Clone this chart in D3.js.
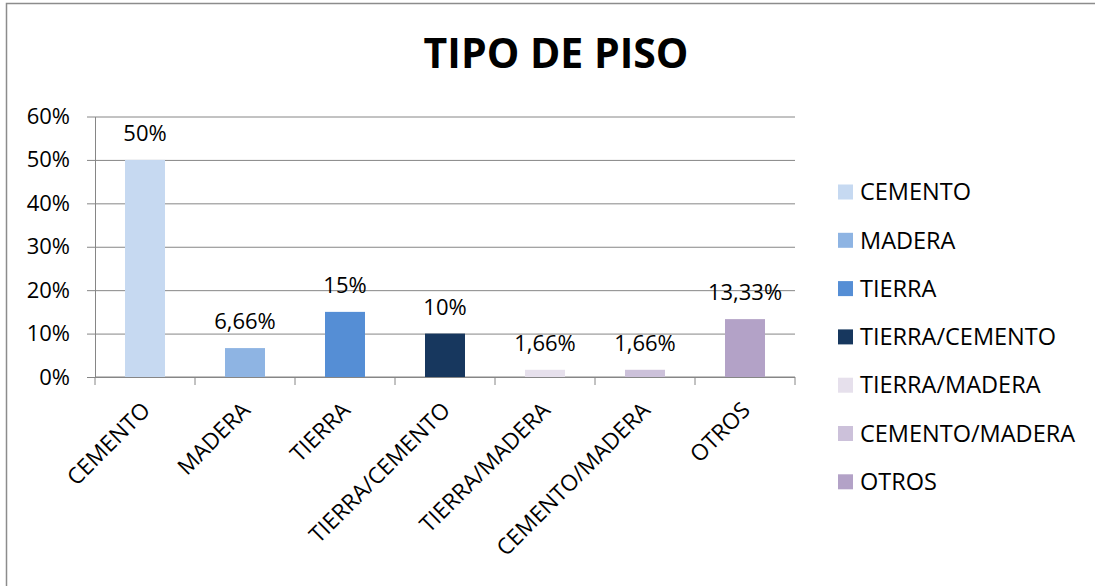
<!DOCTYPE html>
<html>
<head>
<meta charset="utf-8">
<script src="https://cdn.jsdelivr.net/npm/d3@7"></script>
<style>
  body { margin: 0; background: #fff; }
  text { font-family: "Open Sans", sans-serif; fill: #000; }
</style>
</head>
<body>
<script>
// data
const categories = ["CEMENTO", "MADERA", "TIERRA", "TIERRA/CEMENTO", "TIERRA/MADERA", "CEMENTO/MADERA", "OTROS"];
const values = [0.50, 0.0666, 0.15, 0.10, 0.0166, 0.0166, 0.1333];
const valueLabels = ["50%", "6,66%", "15%", "10%", "1,66%", "1,66%", "13,33%"];
const colors = ["#C6D9F1", "#8EB4E3", "#558ED5", "#17375E", "#E6E0EC", "#CCC1DA", "#B3A2C7"];
const yTicks = [0, 0.1, 0.2, 0.3, 0.4, 0.5, 0.6];

const width = 1095, height = 586;
const margin = {top: 116.5, right: 300, bottom: 209, left: 95};
const gridColor = "#868686";

const svg = d3.select("body").append("svg")
    .attr("width", width)
    .attr("height", height);

// outer frame (right and bottom edges fall outside the picture)
svg.append("rect")
    .attr("x", 6.5).attr("y", 3.5)
    .attr("width", width + 10).attr("height", height + 10)
    .attr("fill", "none")
    .attr("stroke", "#8c8c8c")
    .attr("stroke-width", 1.5);

svg.append("text")
    .attr("x", 556).attr("y", 68)
    .attr("text-anchor", "middle")
    .style("font-size", "41px")
    .style("font-weight", "bold")
    .text("TIPO DE PISO");

const x = d3.scaleBand()
    .domain(categories)
    .range([margin.left, width - margin.right])
    .paddingInner(0.6)
    .paddingOuter(0.3);

const y = d3.scaleLinear()
    .domain([0, 0.6])
    .range([height - margin.bottom, margin.top]);

// gridlines + y labels
const yAxis = g => g
    .attr("transform", `translate(${margin.left},0)`)
    .call(d3.axisLeft(y).tickValues(yTicks).tickFormat(d3.format(".0%"))
        .tickSize(-(width - margin.right - margin.left)).tickSizeOuter(0))
    .call(g => g.select(".domain").attr("stroke", gridColor))
    .call(g => g.selectAll(".tick line").attr("stroke", gridColor).attr("x1", -8))
    .call(g => g.selectAll(".tick text")
        .attr("x", -25)
        .style("font-size", "22px")
        .attr("fill", "#000"));

svg.append("g").attr("class", "y-axis").call(yAxis);

// x axis: ticks between categories
const bounds = d3.range(categories.length + 1).map(i => margin.left + i * x.step());
const xg = svg.append("g").attr("class", "x-axis");
xg.append("line")
    .attr("x1", margin.left).attr("x2", width - margin.right)
    .attr("y1", y(0)).attr("y2", y(0))
    .attr("stroke", gridColor);
xg.selectAll(".sep")
    .data(bounds)
    .join("line")
    .attr("class", "sep")
    .attr("x1", d => d).attr("x2", d => d)
    .attr("y1", y(0)).attr("y2", y(0) + 8)
    .attr("stroke", gridColor);
xg.selectAll(".lbl")
    .data(categories)
    .join("text")
    .attr("class", "lbl")
    .attr("text-anchor", "end")
    .attr("dy", "0.35em")
    .style("font-size", "22.5px")
    .attr("transform", d => `translate(${x(d) + x.bandwidth() / 2 + 1},406) rotate(-45)`)
    .text(d => d);

// bars
svg.append("g")
    .attr("class", "bars")
    .selectAll("rect")
    .data(categories)
    .join("rect")
    .attr("x", d => x(d))
    .attr("y", (d, i) => y(values[i]))
    .attr("width", x.bandwidth())
    .attr("height", (d, i) => y(0) - y(values[i]))
    .attr("fill", (d, i) => colors[i]);

// value labels
svg.append("g")
    .selectAll("text")
    .data(categories)
    .join("text")
    .attr("x", d => x(d) + x.bandwidth() / 2)
    .attr("y", (d, i) => y(values[i]) - 19)
    .attr("text-anchor", "middle")
    .style("font-size", "22px")
    .text((d, i) => valueLabels[i]);

// legend
const legend = svg.append("g")
    .selectAll("g")
    .data(categories)
    .join("g")
    .attr("transform", (d, i) => `translate(838,${192 + i * 48.3})`);
legend.append("rect")
    .attr("y", -7.5)
    .attr("width", 15).attr("height", 15)
    .attr("fill", (d, i) => colors[i]);
legend.append("text")
    .attr("x", 22)
    .attr("dy", "0.35em")
    .style("font-size", "23.5px")
    .text(d => d);
</script>
</body>
</html>
